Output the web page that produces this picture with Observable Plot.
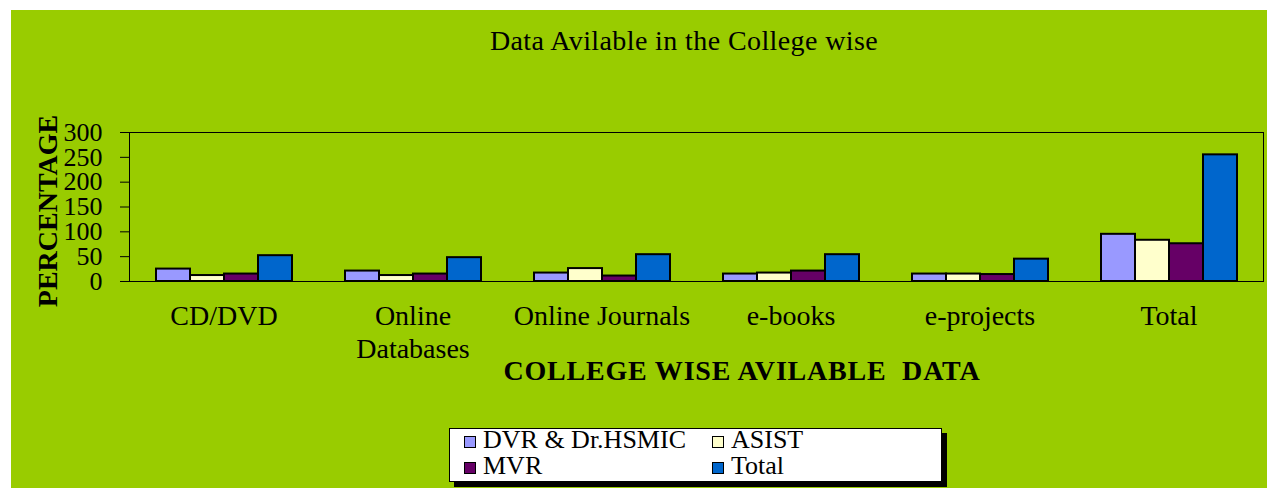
<!DOCTYPE html>
<html>
<head>
<meta charset="utf-8">
<script src="https://cdn.jsdelivr.net/npm/d3@7"></script>
<script src="https://cdn.jsdelivr.net/npm/@observablehq/plot@0.6"></script>
<style>
  html, body { margin: 0; padding: 0; background: #ffffff; }
  body { width: 1267px; height: 488px; position: relative; overflow: hidden; font-family: "Liberation Serif", "Times New Roman", serif; color: #000; }
  #bg { position: absolute; left: 11px; top: 10px; width: 1256px; height: 478px; background: #99CC00; }
  #chart { position: absolute; left: 0; top: 0; }
  .txt { position: absolute; white-space: pre; line-height: 1; }
  #title { font-size: 28px; letter-spacing: 0.4px; left: 384px; width: 600px; text-align: center; top: 27px; }
  #xtitle { font-size: 28px; letter-spacing: 0.8px; font-weight: bold; left: 442px; width: 600px; text-align: center; top: 357px; }
  #ytitle { font-size: 28px; font-weight: bold; width: 260px; text-align: center; left: -82px; top: 197px; transform: rotate(-90deg); }
  #legend { position: absolute; left: 449px; top: 428px; width: 491px; height: 52px; background: #fff; border: 1px solid #000; box-shadow: 5px 5px 0 #000; font-size: 26px; }
  .item { position: absolute; display: flex; align-items: center; line-height: 1; }
  .sw { width: 10px; height: 10px; border: 1.5px solid #000; margin-right: 7px; margin-top: 4px; }
</style>
</head>
<body>
<div id="bg"></div>
<div id="chart"></div>
<div id="title" class="txt">Data Avilable in the College wise</div>
<div id="xtitle" class="txt">COLLEGE WISE AVILABLE  DATA</div>
<div id="ytitle" class="txt">PERCENTAGE</div>
<div id="legend"></div>
<script>
const categories = ["CD/DVD", "Online Databases", "Online Journals", "e-books", "e-projects", "Total"];
const series = ["DVR & Dr.HSMIC", "ASIST", "MVR", "Total"];
const colors = ["#9999FF", "#FFFFCC", "#660066", "#0066CC"];
const dvr   = [25, 21, 17, 15, 15, 95];
const asist = [12, 12, 26, 17, 15, 83];
const mvr   = [15, 15, 11, 21, 14, 76];
const total = [52, 48, 54, 54, 45, 255];
const yTicks = [0, 50, 100, 150, 200, 250, 300];

const valuesBySeries = [dvr, asist, mvr, total];
const data = [];
categories.forEach((c, i) => {
  series.forEach((s, j) => {
    data.push({category: c, series: s, value: valuesBySeries[j][i]});
  });
});

const chart = Plot.plot({
  width: 1267,
  height: 400,
  marginLeft: 129,
  marginRight: 4,
  marginTop: 132,
  marginBottom: 119,
  style: {background: "transparent", fontFamily: "Liberation Serif, serif", fontSize: "26px", color: "#000", overflow: "visible"},
  fx: {domain: categories, paddingInner: 0, paddingOuter: 0},
  x: {domain: series, paddingInner: 0, paddingOuter: 0.74, axis: null},
  y: {domain: [0, 300]},
  color: {domain: series, range: colors},
  marks: [
    Plot.barY(data, {fx: "category", x: "series", y: "value", fill: "series", stroke: "#000", strokeWidth: 2}),
    Plot.frame({facet: "super", stroke: "#000", strokeWidth: 1}),
    Plot.axisY({ticks: yTicks, tickSize: 9, tickPadding: 18, fontSize: 26, label: null, anchor: "left"}),
    Plot.axisFx({anchor: "bottom", tickSize: 0, tickPadding: 20, fontSize: 28, lineHeight: 1.17, label: null,
      tickFormat: d => d === "Online Databases" ? "Online\nDatabases" : d})
  ]
});
document.getElementById("chart").appendChild(chart);

const legend = document.getElementById("legend");
const pos = [[14, -2], [262, -2], [14, 24], [262, 24]];
series.forEach((s, i) => {
  const it = document.createElement("div");
  it.className = "item";
  it.style.left = pos[i][0] + "px";
  it.style.top = pos[i][1] + "px";
  const sw = document.createElement("span");
  sw.className = "sw";
  sw.style.background = colors[i];
  const t = document.createElement("span");
  t.textContent = s;
  it.appendChild(sw);
  it.appendChild(t);
  legend.appendChild(it);
});
</script>
</body>
</html>
